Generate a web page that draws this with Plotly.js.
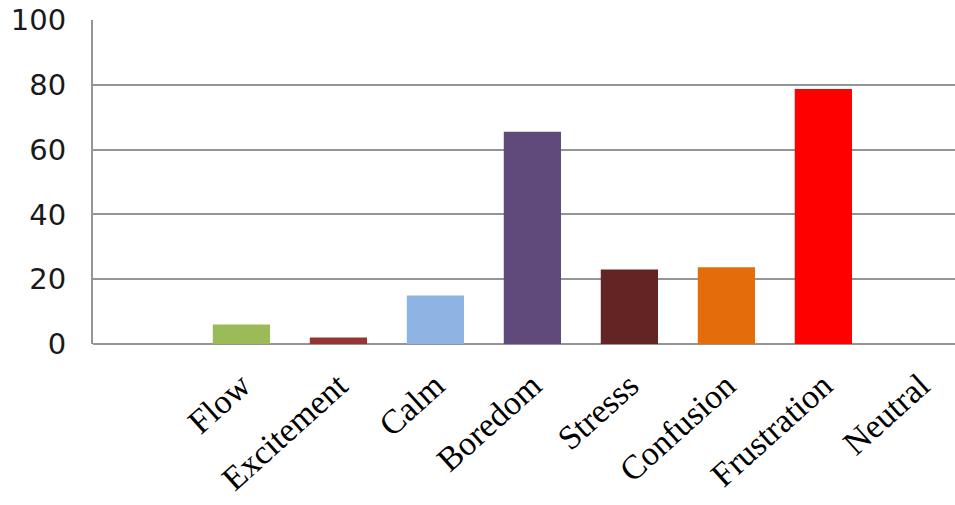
<!DOCTYPE html>
<html>
<head>
<meta charset="utf-8">
<script src="https://cdn.plot.ly/plotly-3.0.1.min.js"></script>
<style>
  html, body { margin: 0; padding: 0; background: #fff; }
  #chart { width: 955px; height: 505px; }
</style>
</head>
<body>
<div id="chart"></div>
<script>
// Emotion categories and their percentages
const emotions = ["Flow", "Excitement", "Calm", "Boredom", "Stresss", "Confusion", "Frustration", "Neutral"];
const percentages = [6, 2, 15, 65.5, 23, 23.7, 78.7, 0];
const barColors = ["#9BBB59", "#963634", "#8DB4E2", "#604A7B", "#632523", "#E46C0A", "#FF0000", "#7F7F7F"];
const yTicks = [0, 20, 40, 60, 80, 100];

const trace = {
  type: "bar",
  x: emotions,
  y: percentages,
  marker: { color: barColors, line: { width: 0 } },
  hoverinfo: "x+y"
};

const layout = {
  width: 955,
  height: 505,
  margin: { l: 93, r: 0, t: 20, b: 161 },
  paper_bgcolor: "#ffffff",
  plot_bgcolor: "#ffffff",
  showlegend: false,
  bargap: 0.41,
  xaxis: {
    type: "category",
    categoryorder: "array",
    categoryarray: emotions,
    range: [-1.53, 7.357],
    showgrid: false,
    zeroline: false,
    showline: false,
    ticks: "",
    tickangle: -42,
    ticklabelstandoff: 14,
    tickfont: { family: "Liberation Serif, Times New Roman, serif", size: 34, color: "#000000" }
  },
  yaxis: {
    range: [0, 100],
    tickvals: yTicks,
    ticktext: yTicks.map(String),
    showgrid: true,
    gridcolor: "#959595",
    gridwidth: 2,
    zeroline: true,
    zerolinecolor: "#959595",
    zerolinewidth: 2,
    showline: true,
    linecolor: "#959595",
    linewidth: 2,
    ticks: "",
    ticklabelstandoff: 19,
    tickfont: { family: "DejaVu Sans, Verdana, sans-serif", size: 29, color: "#1a1a1a" }
  }
};

Plotly.newPlot("chart", [trace], layout, { displayModeBar: false, staticPlot: true });
</script>
</body>
</html>
